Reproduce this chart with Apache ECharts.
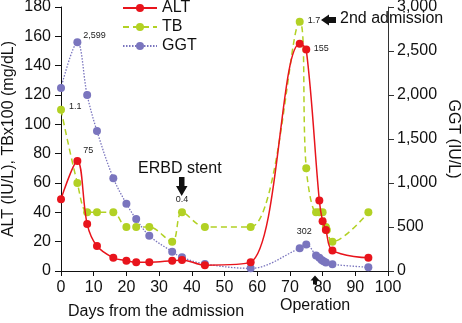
<!DOCTYPE html>
<html>
<head>
<meta charset="utf-8">
<script src="https://cdn.jsdelivr.net/npm/echarts@6/dist/echarts.min.js"></script>
<style>
  html, body { margin: 0; padding: 0; background: #fff; }
  #chart { width: 462px; height: 323px; }
</style>
</head>
<body>
<div id="chart"></div>
<script>
// Days from the admission for each measurement
var altDays = [0, 5, 8, 11, 16, 20, 23, 27, 34, 37, 44, 58, 73, 75, 79, 80, 81, 83, 94];
var altValues = [49, 75, 32, 17, 9, 7, 6, 6, 7, 7.5, 4, 6, 155, 151, 48, 34, 28, 14, 9];

var tbDays = [0, 5, 8, 11, 16, 20, 23, 27, 34, 37, 44, 58, 73, 75, 78, 79, 80, 81, 81.3, 83, 94];
var tbValues = [110, 60, 40, 40, 40, 30, 30, 30, 20, 40, 30, 30, 170, 70, 40, 40, 40, 30, 28, 20, 40];

var ggtDays = [0, 5, 8, 11, 16, 20, 23, 27, 34, 37, 44, 58, 73, 75, 78, 79, 79.7, 80.3, 81, 83, 94];
var ggtValues = [2080, 2599, 2000, 1590, 1055, 765, 590, 400, 220, 155, 80, 30, 258, 302, 175, 150, 125, 112, 98, 76, 42];

var xTicks = [0, 10, 20, 30, 40, 50, 60, 70, 80, 90, 100];
var leftTicks = [0, 20, 40, 60, 80, 100, 120, 140, 160, 180];
var rightTicks = [0, 500, 1000, 1500, 2000, 2500, 3000];

// Points that carry a value label, with label placement
var altLabeled = { 5: { position: 'right', offset: [-2, -10] }, 73: { position: 'right', offset: [6, 5] } };
var tbLabeled = { 0: { position: 'right', offset: [0, -3] }, 37: { position: 'top', offset: [0, 0] }, 73: { position: 'right', offset: [0, -1] } };
var ggtLabeled = { 5: { position: 'right', offset: [-2, -7] }, 75: { position: 'top', offset: [-2, 0] } };

var FONT = "'Liberation Sans', Arial, Helvetica, sans-serif";
var RED = '#e8141c';
var GREEN = '#b2d124';
var PURPLE = '#7a75be';

function fmtThousands(v) {
  return String(Math.round(v)).replace(/\B(?=(\d{3})+(?!\d))/g, ',');
}

function buildData(days, values, labeled, fmt) {
  return days.map(function (d, i) {
    var item = { value: [d, values[i]] };
    if (labeled[d]) {
      item.label = {
        show: true,
        position: labeled[d].position,
        offset: labeled[d].offset,
        distance: 4,
        fontSize: 9,
        fontFamily: FONT,
        color: '#222',
        formatter: function (p) { return fmt(p.value[1]); }
      };
    }
    return item;
  });
}

var chart = echarts.init(document.getElementById('chart'), null, { renderer: 'canvas' });

var axisLineStyle = { color: '#111', width: 1 };
var axisLabelBase = { fontFamily: FONT, fontSize: 16, color: '#111' };

chart.setOption({
  animation: false,
  backgroundColor: '#fff',
  textStyle: { fontFamily: FONT },
  grid: { left: 61, right: 74, top: 7, bottom: 52, containLabel: false, outerBoundsMode: 'none' },
  legend: {
    orient: 'vertical',
    left: 122,
    top: 0,
    padding: 0,
    itemGap: 3,
    itemWidth: 34,
    itemHeight: 10,
    textStyle: { fontFamily: FONT, fontSize: 16, color: '#111' },
    data: ['ALT', 'TB', 'GGT']
  },
  xAxis: {
    type: 'value',
    min: xTicks[0],
    max: xTicks[xTicks.length - 1],
    interval: 10,
    splitLine: { show: false },
    axisLine: { lineStyle: axisLineStyle },
    axisTick: { length: 5, lineStyle: axisLineStyle },
    axisLabel: Object.assign({ margin: 9 }, axisLabelBase)
  },
  yAxis: [
    {
      type: 'value',
      min: leftTicks[0],
      max: leftTicks[leftTicks.length - 1],
      interval: 20,
      splitLine: { show: false },
      axisLine: { show: true, lineStyle: axisLineStyle },
      axisTick: { show: true, length: 6, lineStyle: axisLineStyle },
      axisLabel: Object.assign({ margin: 10 }, axisLabelBase),
      name: 'ALT (IU/L), TBx100 (mg/dL)',
      nameLocation: 'middle',
      nameRotate: 90,
      nameGap: 44,
      nameMoveOverlap: false,
      nameTextStyle: { fontFamily: FONT, fontSize: 16, color: '#111' }
    },
    {
      type: 'value',
      min: rightTicks[0],
      max: rightTicks[rightTicks.length - 1],
      interval: 500,
      position: 'right',
      splitLine: { show: false },
      axisLine: { show: true, lineStyle: { color: '#333', width: 1 } },
      axisTick: { show: true, length: 6, lineStyle: { color: '#333', width: 1 } },
      axisLabel: Object.assign({ margin: 9, formatter: fmtThousands }, axisLabelBase),
      name: 'GGT (IU/L)',
      nameLocation: 'middle',
      nameRotate: -90,
      nameGap: 57,
      nameMoveOverlap: false,
      nameTextStyle: { fontFamily: FONT, fontSize: 16, color: '#111' }
    }
  ],
  series: [
    {
      name: 'ALT',
      type: 'line',
      yAxisIndex: 0,
      smooth: 0.35,
      symbol: 'circle',
      symbolSize: 8,
      color: RED,
      lineStyle: { color: RED, width: 1.5 },
      itemStyle: { color: RED },
      z: 4,
      data: buildData(altDays, altValues, altLabeled, function (v) { return String(Math.round(v)); })
    },
    {
      name: 'TB',
      type: 'line',
      yAxisIndex: 0,
      smooth: 0.35,
      symbol: 'circle',
      symbolSize: 8,
      color: GREEN,
      lineStyle: { color: GREEN, width: 1.5, type: [6, 4] },
      itemStyle: { color: GREEN },
      z: 3,
      data: buildData(tbDays, tbValues, tbLabeled, function (v) { return (v / 100).toFixed(1); })
    },
    {
      name: 'GGT',
      type: 'line',
      yAxisIndex: 1,
      smooth: 0.35,
      symbol: 'circle',
      symbolSize: 8,
      color: PURPLE,
      lineStyle: { color: PURPLE, width: 1.3, type: [1.5, 1.5] },
      itemStyle: { color: PURPLE },
      z: 2,
      data: buildData(ggtDays, ggtValues, ggtLabeled, fmtThousands)
    }
  ],
  graphic: [
    // x-axis title
    { type: 'text', left: 68, top: 304, style: { text: 'Days from the admission', fontFamily: FONT, fontSize: 16, fill: '#111' } },
    // ERBD stent annotation
    { type: 'text', left: 138, top: 161, style: { text: 'ERBD stent', fontFamily: FONT, fontSize: 16, fill: '#111' } },
    { type: 'polygon', shape: { points: [[179, 177], [184.5, 177], [184.5, 186], [187.5, 186], [181.7, 196], [176, 186], [179, 186]] }, style: { fill: '#111' } },
    // 2nd admission annotation
    { type: 'text', left: 340, top: 11, style: { text: '2nd admission', fontFamily: FONT, fontSize: 16, fill: '#111' } },
    { type: 'polygon', shape: { points: [[321, 20], [329, 14.5], [329, 17], [336, 17], [336, 23], [329, 23], [329, 25.5]] }, style: { fill: '#111' } },
    // Operation annotation
    { type: 'text', left: 280, top: 298, style: { text: 'Operation', fontFamily: FONT, fontSize: 16, fill: '#111' } },
    { type: 'polygon', shape: { points: [[315, 275.5], [319.5, 280.5], [317, 280.5], [317, 284.5], [313, 284.5], [313, 280.5], [310.5, 280.5]] }, style: { fill: '#111' } }
  ]
});
</script>
</body>
</html>
